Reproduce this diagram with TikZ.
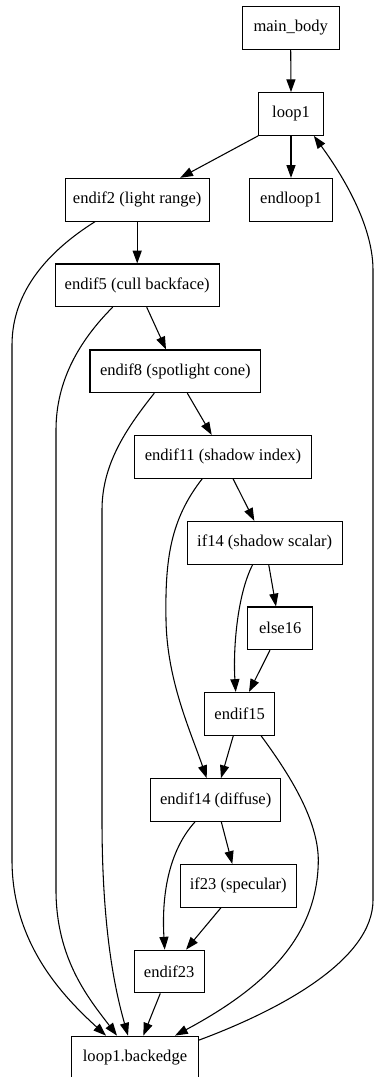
\documentclass[tikz,border=0pt]{standalone}
\usepackage{fontspec}
\setmainfont{Liberation Serif}
\usetikzlibrary{arrows.meta,calc}

\tikzset{
  box/.style={draw, line width=0.8pt, rectangle, inner sep=0pt,
              minimum height=32pt, font=\fontsize{12.4pt}{14pt}\selectfont},
  flow/.style={line width=0.8pt, -{Triangle[length=9.6pt,width=6.8pt]}},
}

\begin{document}
\begin{tikzpicture}[x=0.75pt, y=-0.75pt]
\useasboundingbox (0,0) rectangle (374,1077);

% blocks of the lighting loop
\node[box, minimum width=72.75pt] (mb)  at (290.7,28)    {main\_body};
\node[box, minimum width=48.5pt]  (l1)  at (291,114)     {loop1};
\node[box, minimum width=108.2pt] (e2)  at (137.2,199.7) {endif2 (light range)};
\node[box, minimum width=62pt]    (el1) at (291,199.7)   {endloop1};
\node[box, minimum width=122.8pt] (e5)  at (137.2,285.3) {endif5 (cull backface)};
\node[box, minimum width=128pt]   (e8)  at (175.3,371.3) {endif8 (spotlight cone)};
\node[box, minimum width=133pt]   (e11) at (223,456.8)   {endif11 (shadow index)};
\node[box, minimum width=116.5pt] (i14) at (264.7,542.7) {if14 (shadow scalar)};
\node[box, minimum width=48.75pt] (e16) at (280.2,628.3) {else16};
\node[box, minimum width=52.5pt]  (e15) at (239.7,713.8) {endif15};
\node[box, minimum width=97.5pt]  (e14) at (215.7,800)   {endif14 (diffuse)};
\node[box, minimum width=87pt]    (i23) at (238.3,885.8) {if23 (specular)};
\node[box, minimum width=52.3pt]  (e23) at (169.2,971.5) {endif23};
\node[box, minimum width=95pt]    (be)  at (135,1057.5)  {loop1.backedge};

% straight edges
\draw[flow] (mb.south) -- (l1.north);
\draw[flow] (l1.south west) -- ($(e2.north)+(43,0)$);
\draw[flow] (l1.south) -- (el1.north);
\draw[flow] (e2.south) -- (e5.north);
\draw[flow] ($(e5.south)+(9.5,0)$) -- ($(e8.north)+(-9.3,0)$);
\draw[flow] ($(e8.south)+(12,0)$) -- ($(e11.north)+(-11.3,0)$);
\draw[flow] ($(e11.south)+(10,0)$) -- ($(i14.north)+(-10.4,0)$);
\draw[flow] ($(i14.south)+(4,0)$) -- ($(e16.north)+(-4.2,0)$);
\draw[flow] ($(e16.south)+(-10.2,0)$) -- ($(e15.north)+(9.3,0)$);
\draw[flow] ($(e15.south)+(-6.4,0)$) -- ($(e14.north)+(5.3,0)$);
\draw[flow] ($(e14.south)+(5.6,0)$) -- ($(i23.north)+(-6,0)$);
\draw[flow] ($(i23.south)+(-17.3,0)$) -- ($(e23.north)+(16.8,0)$);
\draw[flow] ($(e23.south)+(-8.9,0)$) -- ($(be.north)+(8.3,0)$);

% curved edges
\draw[flow] ($(e2.south)+(-42,0)$) .. controls (50,250) and (12,290) .. (12,345)
  -- (12,860) .. controls (12,945) and (65,998) .. ($(be.north)+(-29,0)$);
\draw[flow] ($(e5.south)+(-24.5,0)$) .. controls (80,340) and (56,380) .. (56,430)
  -- (56,890) .. controls (56,960) and (90,1000) .. ($(be.north)+(-18,0)$);
\draw[flow] ($(e8.south)+(-21,0)$) .. controls (125,430) and (102,465) .. (102,510)
  -- (102,820) .. controls (102,930) and (115,990) .. ($(be.north)+(-7,0)$);
\draw[flow] ($(e11.south)+(-20.7,0)$) .. controls (170,520) and (165,560) .. (166,620)
  .. controls (167,680) and (190,730) .. ($(e14.north)+(-9,0)$);
\draw[flow] ($(i14.south)+(-12,0)$) .. controls (237,595) and (233,650) .. ($(e15.north)+(-4,0)$);
\draw[flow] ($(e15.south)+(21.3,0)$) .. controls (290,775) and (318,820) .. (318.3,860)
  .. controls (318,940) and (260,990) .. ($(be.north)+(40,0)$);
\draw[flow] ($(e14.south)+(-20.7,0)$) .. controls (165,855) and (162,905) .. ($(e23.north)+(-4.5,0)$);
\draw[flow] ($(be.north east)+(0,4.5)$) .. controls (280,1010) and (373,960) .. (373,900)
  -- (373,270) .. controls (373,220) and (335,165) .. ($(l1.south east)+(-10,0)$);
\end{tikzpicture}
\end{document}
